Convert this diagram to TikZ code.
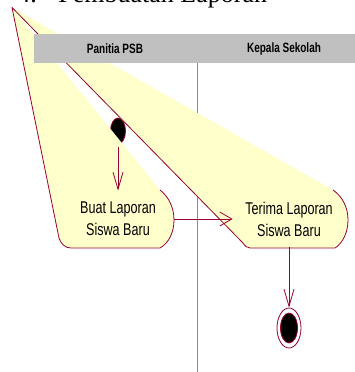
\documentclass[tikz,border=0pt]{standalone}
\usepackage{fontspec}
\setmainfont{Liberation Serif}
\newfontfamily\narrowsf[FakeStretch=0.74]{Liberation Sans}
\usetikzlibrary{arrows.meta,shapes.geometric,positioning}
\definecolor{roseline}{HTML}{990033}
\definecolor{rosefill}{HTML}{FFFFCC}
\definecolor{lanegray}{HTML}{C0C0C0}
\definecolor{laneline}{HTML}{C07090}

\begin{document}
\begin{tikzpicture}[
        x=1pt, y=-1pt,
        every path/.style={line width=0.8pt},
        activity/.style={align=center, minimum width=112pt, minimum height=56pt, inner sep=0pt, font=\narrowsf\fontsize{17}{22}\selectfont},
        lane/.style={font=\narrowsf\bfseries\fontsize{13.5}{15}\selectfont},
        startstate/.style={ellipse, draw=roseline, fill=black, minimum width=15pt, minimum height=26pt, inner sep=0pt},
        endstate/.style={ellipse, draw=roseline, fill=white, minimum width=24pt, minimum height=40pt, inner sep=0pt},
        flow/.style={draw=roseline, -{Straight Barb[length=17pt,width=10pt]}}
    ]
    \useasboundingbox (0,0) rectangle (355,372);

    % Title (cut at the top)
    \node[anchor=base west, inner sep=0pt, font=\fontsize{26}{28}\selectfont] (num) at (17,2.5) {4.};
    \node[anchor=base west, inner sep=0pt, font=\fontsize{26}{28}\selectfont] (title) at (58,2.5) {Pembuatan Laporan};

    % Lane line
    \draw[laneline] (197,63) -- (197,372);

    % Nodes
    \node[startstate] (start) at (118,131) {};

    \coordinate (apex) at (12,7.5);
    \fill[rosefill] (apex) -- (160,190) .. controls (169,197) and (174,208) .. (174,220)
        .. controls (174,232) and (169,243) .. (160,248) -- (71,248)
        .. controls (65,248) and (61,244) .. (59,238) -- cycle;
    \fill[rosefill] (apex) -- (333,190) .. controls (343,197) and (348,208) .. (348,220)
        .. controls (348,232) and (343,243) .. (335,248) -- (250,248)
        .. controls (247,248) and (245,246) .. (243,243) -- cycle;
    \draw[roseline] (160,190) .. controls (169,197) and (174,208) .. (174,220)
        .. controls (174,232) and (169,243) .. (160,248) -- (71,248)
        .. controls (65,248) and (61,244) .. (59,238) -- (apex);
    \draw[roseline] (333,190) .. controls (343,197) and (348,208) .. (348,220)
        .. controls (348,232) and (343,243) .. (335,248) -- (250,248)
        .. controls (247,248) and (245,246) .. (243,243) -- (apex);

    % Header
    \fill[lanegray] (34,34) rectangle (355,63);
    \node[lane] (psb) at (115,49) {Panitia PSB};
    \node[lane] (kepsek) at (284,49) {Kepala Sekolah};

    \node[activity] (buat) at (118,219) {Buat Laporan\\Siswa Baru};
    \node[activity] (terima) at (289,219) {Terima Laporan\\Siswa Baru};

    \node[endstate] (end) at (289,328) {};
    \node[ellipse, draw=roseline, fill=black, minimum width=17pt, minimum height=30pt, inner sep=0pt] (enddot) at (end.center) {};

    % Edges
    \draw[flow, shorten <=3pt] (start) -- (buat);
    \draw[flow, -{Straight Barb[length=12pt,width=14pt]}] (buat) -- (terima);
    \draw[flow] (terima) -- (end);

\end{tikzpicture}
\end{document}
